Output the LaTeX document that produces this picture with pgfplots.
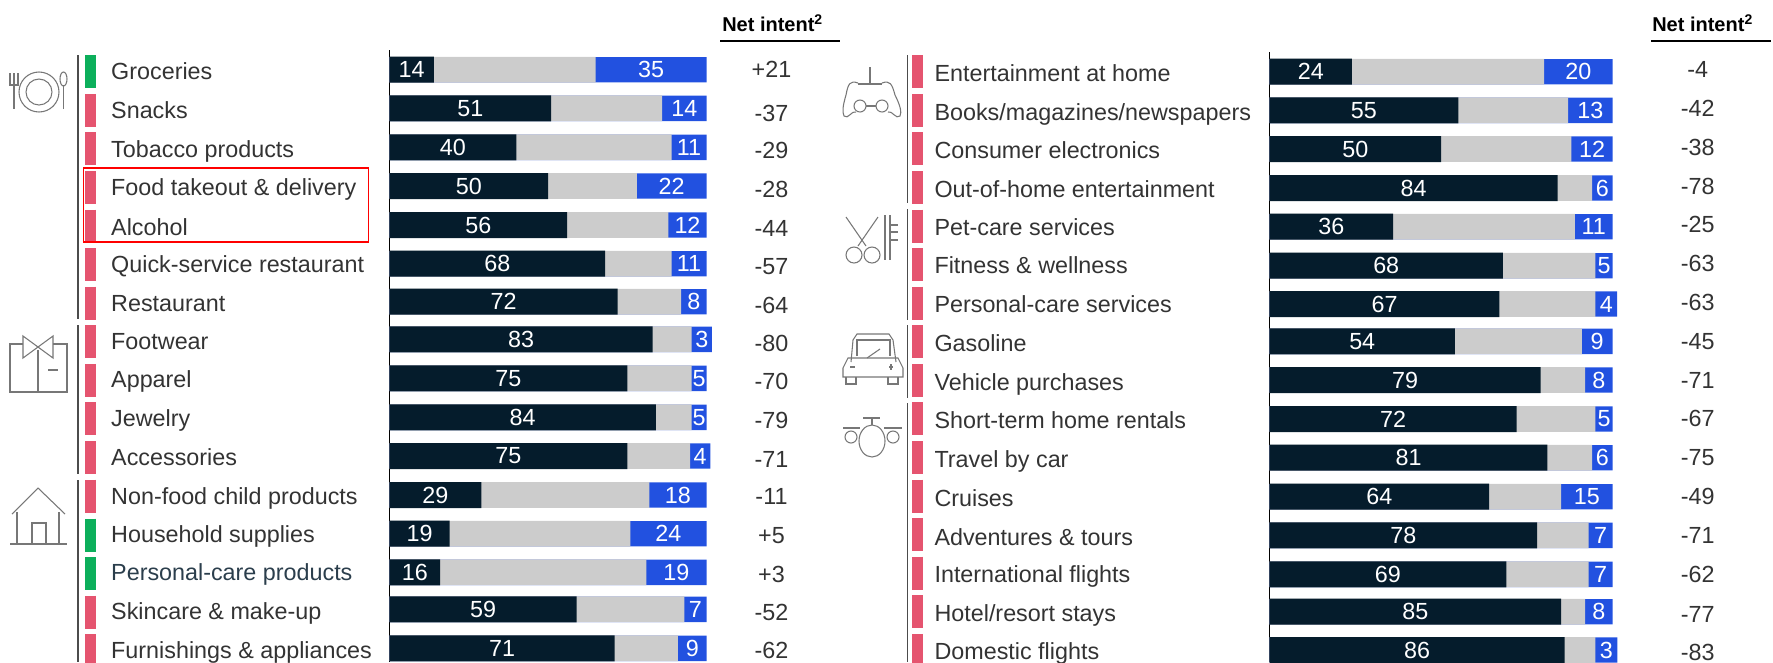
\documentclass[border=0pt]{standalone}
\usepackage{pgfplots}
\usepackage{pgfplotstable}
\usepackage{fontspec}
\setmainfont{Liberation Sans}
\pgfplotsset{compat=1.18}
\definecolor{navy}{HTML}{051C2C}
\definecolor{mygray}{HTML}{CCCCCC}
\definecolor{myblue}{HTML}{2251E0}
\definecolor{pink}{HTML}{E5546F}
\definecolor{mygreen}{HTML}{0CAF5B}
\definecolor{txt}{HTML}{333333}
\definecolor{ico}{HTML}{777777}

% y = row position, dark = dark bar, bs/be = start and end of blue bar, blue = its value
\pgfplotstableread{
y dark bs be blue net ny
69.7 14 65 100 35 +21 69.7
108.3 51 86 100 14 -37 113
147.3 40 89 100 11 -29 150
186 50 78 100 22 -28 189
225 56 88 100 12 -44 228
263.7 68 89 100 11 -57 266.7
301.7 72 92 100 8 -64 305.3
339.3 83 95.3 101.7 3 -80 343.3
378.3 75 95.3 100 5 -70 381.7
417.3 84 95.3 100 5 -79 420
456 75 94.8 101.2 4 -71 459.3
495 29 82 100 18 -11 496.7
533.7 19 76 100 24 +5 535.7
572.3 16 81 100 19 +3 574.3
609.3 59 93 100 7 -52 612.7
648.3 71 91 100 9 -62 650
}\lefttable
\pgfplotstableread{
y dark bs be blue net ny
71.7 24 80 100 20 -4 69.7
110.3 55 87 100 13 -42 108.3
149 50 88 100 12 -38 147
188 84 94 100 6 -78 186
226.7 36 89 100 11 -25 224.7
265.7 68 95 100 5 -63 263.7
304 67 95 101.3 4 -63 302.7
341.3 54 91 100 9 -45 341.3
380 79 92 100 8 -71 380
419 72 95 100 5 -67 418.7
457.7 81 94 100 6 -75 457.3
496.7 64 85 100 15 -49 496
535.3 78 93 100 7 -71 535
574.3 69 93 100 7 -62 574
611.7 85 92 100 8 -77 614
650 86 95 101.4 3 -83 652.3
}\righttable

\pgfplotsset{
  panel/.style={
    scale only axis, clip=false, anchor=north west,
    xmin=0, xmax=100, y dir=reverse,
    axis x line=none, axis y line=left,
    axis line style={-, black, line width=1.1pt},
    xtick=\empty, ytick style={draw=none},
    tick label style={font=\fontsize{17.5}{20}\selectfont, text=txt},
    yticklabel style={anchor=west, text height=15pt, text depth=2.4pt},
  },
  barp/.style={xbar, bar shift=0pt, bar width=#1, draw=none, forget plot},
  lab/.style={forget plot, draw=none, mark=none, point meta=explicit symbolic,
    nodes near coords={\pgfplotspointmeta},
    every node near coord/.style={anchor=center, font=\fontsize{17.5}{20}\selectfont, text=#1, inner sep=0pt}},
  stat/.style={forget plot, only marks, mark=|, mark size=12.375pt, mark options={line width=8.25pt, draw=#1}},
}

\begin{document}
\begin{tikzpicture}[x=0.75pt, y=-0.75pt]
\useasboundingbox (0,0) rectangle (1773,662);

% ---------- LEFT PANEL ----------
\begin{axis}[panel, at={(292.125pt,-37.5pt)}, width=237.75pt, height=459pt, ymin=50, ymax=662,
  ytick={70.7,109.7,148.7,187.3,226.7,264.3,302.7,341,379.3,418,457.3,496,533.7,572.3,611.3,650},
  yticklabels={Groceries,Snacks,Tobacco products,Food takeout \& delivery,Alcohol,Quick-service restaurant,Restaurant,Footwear,Apparel,Jewelry,Accessories,Non-food child products,Household supplies,\textcolor{navy!85}{Personal-care products},Skincare \& make-up,Furnishings \& appliances},
  yticklabel style={xshift=-210.1pt},
]
\addplot[barp=25.4, fill=myblue] table[x=be, y=y] {\lefttable};
\addplot[barp=25.7, fill=mygray] table[x=bs, y=y] {\lefttable};
\addplot[barp=26, fill=navy] table[x=dark, y=y] {\lefttable};
\addplot[lab=white] table[x expr=\thisrow{dark}/2, y=y, meta=dark] {\lefttable};
\addplot[lab=white] table[x expr=(\thisrow{bs}+\thisrow{be})/2, y=y, meta=blue] {\lefttable};
\addplot[lab=txt] table[x expr=120.5, y=ny, meta=net] {\lefttable};
\addplot[stat=mygreen] coordinates {(-94.3,71.7)(-94.3,535)(-94.3,573.6)};
\addplot[stat=pink] coordinates {(-94.3,110.3)(-94.3,148.9)(-94.3,187.5)(-94.3,226)(-94.3,264.6)(-94.3,303.2)(-94.3,341.8)(-94.3,380.3)(-94.3,418.9)(-94.3,457.5)(-94.3,496)(-94.3,612)(-94.3,650.5)};
\end{axis}

% ---------- RIGHT PANEL ----------
\begin{axis}[panel, at={(952.2pt,-39pt)}, width=257.25pt, height=457.5pt, ymin=52, ymax=662,
  ytick={72.7,111.7,150.3,189.3,226.7,265.3,304,342.7,381.7,420,459.3,497.7,536.7,574,612.7,651},
  yticklabels={Entertainment at home,Books/magazines/newspapers,Consumer electronics,Out-of-home entertainment,Pet-care services,Fitness \& wellness,Personal-care services,Gasoline,Vehicle purchases,Short-term home rentals,Travel by car,Cruises,Adventures \& tours,International flights,Hotel/resort stays,Domestic flights},
  yticklabel style={xshift=-252.7pt},
]
\addplot[barp=25.4, fill=myblue] table[x=be, y=y] {\righttable};
\addplot[barp=25.7, fill=mygray] table[x=bs, y=y] {\righttable};
\addplot[barp=26, fill=navy] table[x=dark, y=y] {\righttable};
\addplot[lab=white] table[x expr=\thisrow{dark}/2, y=y, meta=dark] {\righttable};
\addplot[lab=white] table[x expr=(\thisrow{bs}+\thisrow{be})/2, y=y, meta=blue] {\righttable};
\addplot[lab=txt] table[x expr=124.8, y=ny, meta=net] {\righttable};
\addplot[stat=pink] coordinates {(-102.7,71.7)(-102.7,110.3)(-102.7,148.9)(-102.7,187.5)(-102.7,226)(-102.7,264.6)(-102.7,303.2)(-102.7,341.8)(-102.7,380.3)(-102.7,418.9)(-102.7,457.5)(-102.7,496)(-102.7,534.6)(-102.7,573.2)(-102.7,611.8)(-102.7,650.3)};
\end{axis}

% ---------- headers ----------
\node[anchor=base west, inner sep=0pt, font=\fontsize{15}{18}\selectfont\bfseries, text=black] at (722,31) {Net intent\textsuperscript{2}};
\draw[black, line width=1.2pt] (720,40.7) -- (840,40.7);
\node[anchor=base west, inner sep=0pt, font=\fontsize{15}{18}\selectfont\bfseries, text=black] at (1652,31) {Net intent\textsuperscript{2}};
\draw[black, line width=1.2pt] (1651,40.7) -- (1771,40.7);

% ---------- group rules ----------
\begin{scope}[draw=black!70, line width=1pt]
\draw (78,55) -- (78,319); \draw (78,325) -- (78,474); \draw (78,480) -- (78,662);
\draw (907.6,55) -- (907.6,203); \draw (907.6,209) -- (907.6,320); \draw (907.6,325) -- (907.6,398); \draw (907.6,403) -- (907.6,662);
\end{scope}

% ---------- highlight ----------
\draw[red, line width=1.3pt] (83.4,168.3) rectangle (368.6,242.3);

% ---------- icons ----------
\begin{scope}[draw=ico, line width=0.8pt]
% plate
\draw (39,92) circle[radius=20]; \draw (39,92) circle[radius=13];
\draw (14,73) -- (14,109); \draw (10,73) -- (10,85) -- (18,85) -- (18,73);
\draw (63.5,109) -- (63.5,85); \draw (63.5,79) ellipse[x radius=3.5, y radius=7];
% shirt
\draw (23,344) -- (10,344) -- (10,392) -- (67,392) -- (67,344) -- (53,344);
\draw (23,336) -- (53,358) -- (53,336) -- (23,358) -- cycle;
\draw (38,350) -- (38,392); \draw[line width=1pt] (48,370) -- (58,370);
% house
\draw (12,514) -- (38,488) -- (65,514);
\draw (17,512) -- (17,544); \draw (59,512) -- (59,544); \draw (10,544) -- (67,544);
\draw (32,544) -- (32,523) -- (46,523) -- (46,544);
% gamepad
\draw (870,67) -- (870,85);
\draw (858,83) .. controls (850,80) and (848,84) .. (846,95) .. controls (843,105) and (842,112) .. (844,116) .. controls (848,120) and (852,110) .. (856,112);
\draw (882,83) .. controls (890,80) and (892,84) .. (895,95) .. controls (900,105) and (902,112) .. (900,116) .. controls (896,120) and (892,110) .. (888,112);
\draw (858,84) -- (882,84);
\draw (860,106) circle[radius=6]; \draw (882,106) circle[radius=6]; \draw (866,106) -- (876,106);
% scissors
\draw (846,217) -- (866,246); \draw (878,217) -- (858,246);
\draw (854,255) circle[radius=8]; \draw (872,255) circle[radius=8];
\draw (885,215) -- (885,260);
\draw (890,215) -- (890,260); \draw (890,225) -- (898,225); \draw (890,232) -- (898,232); \draw (890,240) -- (898,240);
% car
\draw (851,362) -- (853,340) -- (857,334) -- (889,334) -- (893,340) -- (896,362);
\draw (857,356) -- (857,340) -- (890,340) -- (890,356);
\draw (843,368) -- (848,358) -- (898,358) -- (903,368) -- (903,377) -- (843,377) -- cycle;
\draw (867,358) -- (880,349);
\draw (850,367) -- (855,367); \draw (889,367) -- (893,367); \draw (891,364) -- (891,370);
\draw (846,377) -- (846,384) -- (856,384) -- (856,377);
\draw (888,377) -- (888,384) -- (898,384) -- (898,377);
% plane
\draw (872,441) ellipse[x radius=13, y radius=16];
\draw (863,418) -- (880,418); \draw (872,418) -- (872,425);
\draw (843,428) -- (860,428); \draw (884,428) -- (902,428);
\draw (851,437) circle[radius=6]; \draw (893,437) circle[radius=6];
\end{scope}
\end{tikzpicture}
\end{document}
